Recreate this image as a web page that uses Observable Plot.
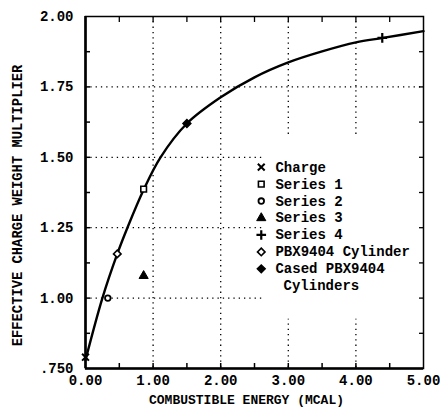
<!DOCTYPE html>
<html>
<head>
<meta charset="utf-8">
<script src="https://cdn.jsdelivr.net/npm/d3@7"></script>
<script src="https://cdn.jsdelivr.net/npm/@observablehq/plot@0.6"></script>
<style>
  html, body { margin: 0; padding: 0; background: #fff; }
  svg { display: block; }
</style>
</head>
<body>
<div id="chart"></div>
<script>
// ---- Data ----
const curveX = [0, 0.25, 0.47, 0.62, 0.86, 1.11, 1.5, 2.0, 2.5, 3.0, 3.5, 4.0, 4.4, 5.0];
const curveY = [0.78, 1.0, 1.157, 1.25, 1.385, 1.5, 1.62, 1.713, 1.784, 1.837, 1.876, 1.908, 1.924, 1.948];

const pointSeries = ["Charge", "Series 1", "Series 2", "Series 3", "Series 4", "PBX9404 Cylinder", "Cased PBX9404 Cylinders"];
const pointX = [0.0, 0.86, 0.33, 0.86, 4.39, 0.47, 1.5];
const pointY = [0.79, 1.387, 1.0, 1.079, 1.924, 1.157, 1.62];

const legendLabels = ["Charge", "Series 1", "Series 2", "Series 3", "Series 4", "PBX9404 Cylinder", "Cased PBX9404"];
const legendContinuation = ["Cylinders"];

const xTicks = [0, 1, 2, 3, 4, 5];
const xTickLabels = ["0.00", "1.00", "2.00", "3.00", "4.00", "5.00"];
const yTicks = [0.75, 1.0, 1.25, 1.5, 1.75, 2.0];
const yTickLabels = [".750", "1.00", "1.25", "1.50", "1.75", "2.00"];
const xMinor = [0.5, 1, 1.5, 2, 2.5, 3, 3.5, 4, 4.5];
const yMinor = [0.875, 1.0, 1.125, 1.25, 1.375, 1.5, 1.625, 1.75, 1.875];
const xGrid = [1, 2, 3, 4];
const yGrid = [1.0, 1.25, 1.5, 1.75];

const xTitle = "COMBUSTIBLE ENERGY (MCAL)";
const yTitle = "EFFECTIVE CHARGE WEIGHT MULTIPLIER";

// ---- Tables built from the arrays ----
const curve = curveX.map((x, i) => ({x, y: curveY[i]}));
const points = pointSeries.map((s, i) => ({series: s, x: pointX[i], y: pointY[i]}));

const symbolStyle = {
  "Charge": {symbol: "times", fill: "none", stroke: "#000", r: 3.2, strokeWidth: 2},
  "Series 1": {symbol: "square", fill: "#fff", stroke: "#000", r: 3.2, strokeWidth: 1.6},
  "Series 2": {symbol: "circle", fill: "#fff", stroke: "#000", r: 2.8, strokeWidth: 1.8},
  "Series 3": {symbol: "triangle", fill: "#000", stroke: "#000", r: 3.4, strokeWidth: 1},
  "Series 4": {symbol: "plus", fill: "none", stroke: "#000", r: 3.2, strokeWidth: 2.2},
  "PBX9404 Cylinder": {symbol: "diamond2", fill: "#fff", stroke: "#000", r: 3.4, strokeWidth: 1.6},
  "Cased PBX9404 Cylinders": {symbol: "diamond2", fill: "#000", stroke: "#000", r: 3.6, strokeWidth: 1.4}
};

const font = "Liberation Mono, DejaVu Sans Mono, monospace";

// legend layout (data coordinates)
const legMarkX = 2.60, legTextX = 2.81, legContX = 2.93, legTop = 1.465, legStep = 0.0602;
const legend = legendLabels.map((label, i) => ({label, series: pointSeries[i], y: legTop - i * legStep}));

const dotMarks = [];
for (const s of pointSeries) {
  const st = symbolStyle[s];
  dotMarks.push(Plot.dot(points.filter(d => d.series === s), {x: "x", y: "y", ...st}));
  dotMarks.push(Plot.dot(legend.filter(d => d.series === s), {x: () => legMarkX, y: "y", ...st}));
}

const fmtX = d => xTickLabels[xTicks.indexOf(d)];
const fmtY = d => yTickLabels[yTicks.indexOf(d)];

const chart = Plot.plot({
  width: 440,
  height: 411,
  marginLeft: 85,
  marginRight: 17,
  marginTop: 16,
  marginBottom: 43,
  style: {fontFamily: font, background: "#fff", color: "#000"},
  x: {domain: [0, 5]},
  y: {domain: [0.75, 2.0]},
  marks: [
    Plot.gridX(xGrid, {stroke: "#000", strokeOpacity: 1, strokeWidth: 1.3, strokeDasharray: "1.3,4"}),
    Plot.gridY(yGrid, {stroke: "#000", strokeOpacity: 1, strokeWidth: 1.3, strokeDasharray: "1.3,4"}),
    Plot.rect([0], {x1: () => 2.63, x2: () => 5.0, y1: () => 0.925, y2: () => 1.572, fill: "#fff"}),
    Plot.line(curve, {x: "x", y: "y", curve: "catmull-rom", stroke: "#000", strokeWidth: 2.4}),
    ...dotMarks,
    Plot.text(legend, {x: () => legTextX, y: "y", text: "label", textAnchor: "start", fontSize: 14, fontWeight: "bold", fontFamily: font, fill: "#000"}),
    Plot.text(legendContinuation, {x: () => legContX, y: () => legTop - legendLabels.length * legStep, text: d => d, textAnchor: "start", fontSize: 14, fontWeight: "bold", fontFamily: font, fill: "#000"}),
    // inward minor/major ticks on all four sides
    Plot.axisX(xMinor, {anchor: "bottom", tickSize: -5, fill: "none", label: null, strokeWidth: 1.5}),
    Plot.axisX(xMinor, {anchor: "top", tickSize: -5, fill: "none", label: null, strokeWidth: 1.3}),
    Plot.axisY(yMinor, {anchor: "left", tickSize: -5, fill: "none", label: null, strokeWidth: 1.5}),
    Plot.axisY(yMinor, {anchor: "right", tickSize: -5, fill: "none", label: null, strokeWidth: 1.3}),
    // tick labels
    Plot.axisX(xTicks, {anchor: "bottom", tickSize: 0, tickPadding: 7, tickFormat: fmtX, label: null, fontSize: 14, fontWeight: "bold"}),
    Plot.axisY(yTicks, {anchor: "left", tickSize: 0, tickPadding: 12, tickFormat: fmtY, label: null, fontSize: 14, fontWeight: "bold"}),
    // frame: heavier left & bottom
    Plot.frame({stroke: "#000", strokeWidth: 1.5}),
    Plot.ruleX([0], {stroke: "#000", strokeWidth: 2.6}),
    Plot.ruleY([0.75], {stroke: "#000", strokeWidth: 2.6}),
    // axis titles
    Plot.text([xTitle], {frameAnchor: "bottom", textAnchor: "middle", dx: -8, dy: 35, text: d => d, fontSize: 13, fontWeight: "bold", fontFamily: font, fill: "#000"}),
    Plot.text([yTitle], {frameAnchor: "left", textAnchor: "middle", rotate: -90, dx: -68, dy: 13, text: d => d, fontSize: 13.8, fontWeight: "bold", fontFamily: font, fill: "#000"})
  ]
});
document.getElementById("chart").appendChild(chart);
</script>
</body>
</html>
